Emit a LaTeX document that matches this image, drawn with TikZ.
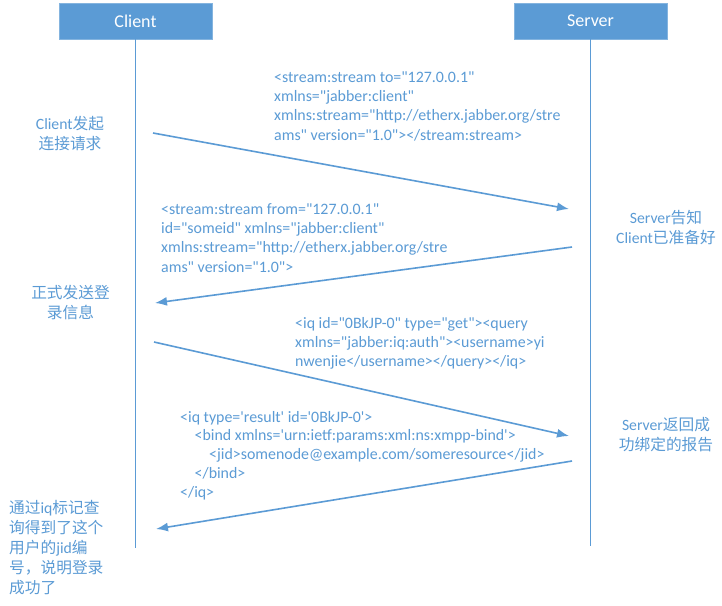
\documentclass[tikz,border=0pt]{standalone}
\usepackage{fontspec}
\defaultfontfeatures{}
\setmainfont{Carlito}[Ligatures=TeXOff]
\newfontfamily\cjk{Noto Sans CJK SC}
\usetikzlibrary{arrows.meta,shadows}
\definecolor{blu}{HTML}{5B9BD5}
\newcommand\zh[1]{{\cjk #1}}
\newcommand\leftlines[1]{\vtop{\halign{##\hfil\cr#1\crcr}}}
\newcommand\midlines[1]{\vtop{\halign{\hfil##\hfil\cr#1\crcr}}}
\newcommand\ind{\hskip14.5pt}
\tikzset{
  actor/.style={fill=blu, draw=blu!75!white, line width=0.6pt, text=white,
    minimum width=153pt, minimum height=36pt, inner sep=0pt,
    font=\fontsize{18}{21}\selectfont,
    drop shadow={shadow xshift=0.8pt, shadow yshift=-0.8pt, opacity=0.25, fill=black!60}},
  life/.style={draw=blu, line width=1.2pt},
  msg/.style={draw=blu, line width=1.6pt, -{Latex[length=12pt,width=9pt]}},
  msgtxt/.style={text=blu, inner sep=0pt, anchor=base west, font=\fontsize{15.9}{19.4}\selectfont},
  note/.style={text=blu, inner sep=0pt, font=\fontsize{15.7}{20.2}\selectfont},
}
\begin{document}
\begin{tikzpicture}[x=1pt,y=-1pt]
\useasboundingbox (0,0) rectangle (722,605);
\fill[white] (0,0) rectangle (722,605);

% actors
\node[actor] (client) at (135.5,21) {Client};
\node[actor] (server) at (590.5,21) {Server};

% lifelines
\coordinate (cl) at (135.5,548);
\coordinate (sl) at (590.5,546);
\draw[life] (client.south) -- (cl);
\draw[life] (server.south) -- (sl);

% message arrows
\coordinate (a1s) at (153,133);
\coordinate (a1e) at (569,209);
\coordinate (a2s) at (572,247);
\coordinate (a2e) at (155,303);
\coordinate (a3s) at (154,342);
\coordinate (a3e) at (569,436);
\coordinate (a4s) at (572,461);
\coordinate (a4e) at (156,529);
\draw[msg] (a1s) -- (a1e);
\draw[msg] (a2s) -- (a2e);
\draw[msg] (a3s) -- (a3e);
\draw[msg] (a4s) -- (a4e);

% message texts
\node[msgtxt] (m1) at (274,82) {\leftlines{<stream:stream to="127.0.0.1"\cr
xmlns="jabber:client"\cr
xmlns:stream="http://etherx.jabber.org/stre\cr
ams" version="1.0"></stream:stream>}};

\node[msgtxt] (m2) at (161,214) {\leftlines{<stream:stream from="127.0.0.1"\cr
id="someid" xmlns="jabber:client"\cr
xmlns:stream="http://etherx.jabber.org/stre\cr
ams" version="1.0">}};

\node[msgtxt] (m3) at (295,328) {\leftlines{<iq id="0BkJP-0" type="get"><query\cr
xmlns="jabber:iq:auth"><username>yi\cr
nwenjie</username></query></iq>}};

\node[msgtxt, font=\fontsize{15.9}{18.8}\selectfont] (m4) at (180,422) {\leftlines{<iq type='result' id='0BkJP-0'>\cr
\ind<bind xmlns='urn:ietf:params:xml:ns:xmpp-bind'>\cr
\ind\ind<jid>somenode@example.com/someresource</jid>\cr
\ind</bind>\cr
</iq>}};

% side notes
\node[note, anchor=base] (n1) at (70,129.5) {\midlines{Client\zh{发起}\cr \zh{连接请求}}};
\node[note, anchor=base] (n2) at (666,223.5) {\midlines{Server\zh{告知}\cr Client\zh{已准备好}}};
\node[note, anchor=base] (n3) at (70.5,298.5) {\midlines{\zh{正式发送登}\cr \zh{录信息}}};
\node[note, anchor=base] (n4) at (666,430) {\midlines{Server\zh{返回成}\cr \zh{功绑定的报告}}};
\node[note, anchor=base west] (n5) at (9,513) {\leftlines{\zh{通过}iq\zh{标记查}\cr
\zh{询得到了这个}\cr
\zh{用户的}jid\zh{编}\cr
\zh{号，说明登录}\cr
\zh{成功了}}};
\end{tikzpicture}
\end{document}
